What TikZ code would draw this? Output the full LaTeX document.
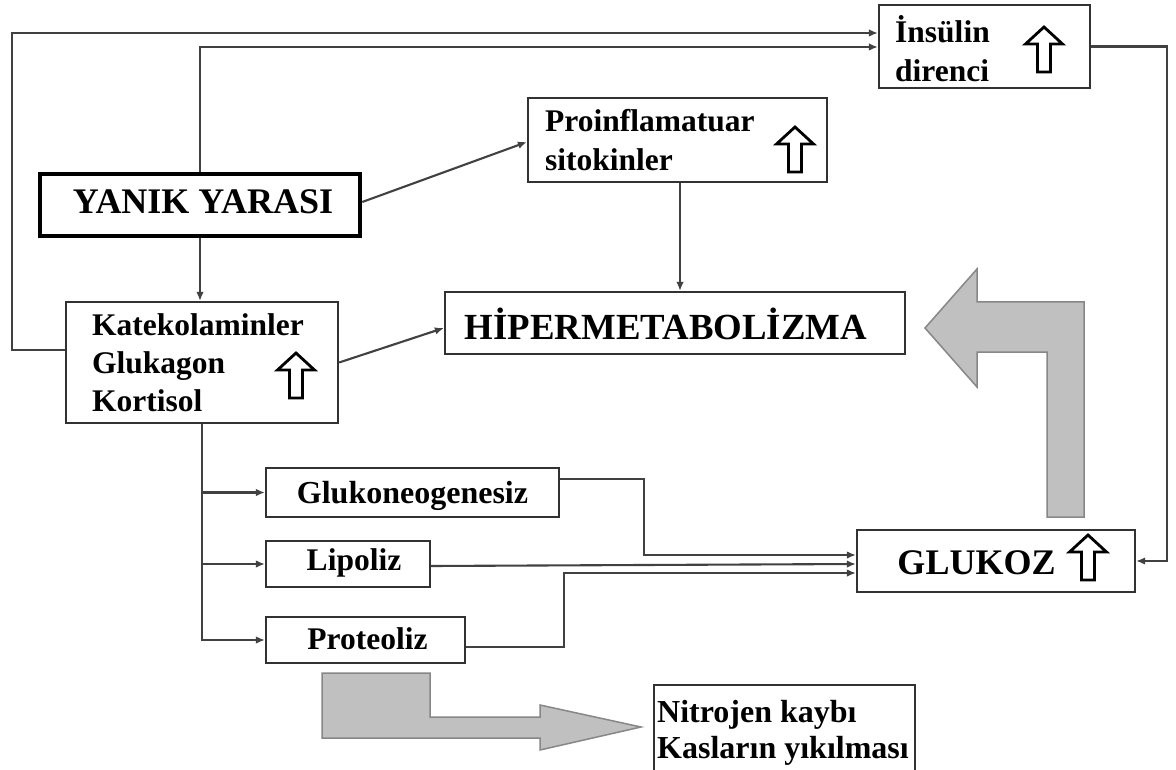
\documentclass[tikz,border=0pt]{standalone}
\usepackage{fontspec}
\setmainfont{Liberation Serif}
\usetikzlibrary{arrows.meta}
\definecolor{boxc}{RGB}{50,50,50}
\definecolor{linec}{RGB}{65,65,65}
\definecolor{grayfill}{RGB}{192,192,192}
\definecolor{grayedge}{RGB}{135,135,135}
\begin{document}
\begin{tikzpicture}[x=1pt,y=-1pt,
  box/.style={draw=boxc, line width=2.2pt, rectangle, inner sep=0pt},
  conn/.style={draw=linec, line width=2.1pt, -{Latex[length=9pt,width=7.5pt]}},
  txt/.style={font=\fontsize{31.5}{36}\selectfont\bfseries, inner sep=0pt, anchor=base west},
  ctxt/.style={inner sep=0pt, anchor=base},
  grayarr/.style={fill=grayfill, draw=grayedge, line width=1.5pt, line join=miter},
  uparr/.pic={\draw[line width=2.8pt, fill=white, line join=miter]
     (-6.5,0) -- (6.5,0) -- (6.5,-28) -- (18.5,-28) -- (0,-45) -- (-18.5,-28) -- (-6.5,-28) -- cycle;}
]
\useasboundingbox[fill=white] (0,0) rectangle (1176,770);

% boxes
\node[box, minimum width=211pt, minimum height=83pt] (ins) at (984.5,46.5) {};
\node[box, minimum width=299pt, minimum height=84pt] (pro) at (677.5,140) {};
\node[box, draw=black, line width=4.5pt, minimum width=320pt, minimum height=62pt] (yan) at (200,205) {};
\node[box, minimum width=272pt, minimum height=121pt] (kat) at (202,362.5) {};
\node[box, minimum width=460pt, minimum height=62pt] (hip) at (675,323) {};
\node[box, minimum width=278pt, minimum height=62pt] (glk) at (996,561) {};
\node[box, minimum width=293pt, minimum height=49pt] (gng) at (412.5,492.5) {};
\node[box, minimum width=164pt, minimum height=46pt] (lip) at (348,564) {};
\node[box, minimum width=199pt, minimum height=46pt] (prt) at (365.5,640) {};
\node[box, anchor=north west, minimum width=261pt, minimum height=130pt] (nit) at (653,684) {};

% texts
\node[txt] (t1) at (895,43) {İnsülin};
\node[txt] (t2) at (895,82) {direnci};
\node[txt] (t3) at (545,132) {Proinflamatuar};
\node[txt] (t4) at (545,171) {sitokinler};
\node[ctxt, font=\fontsize{36}{40}\selectfont\bfseries] (t5) at (203,214) {YANIK YARASI};
\node[txt] (t6) at (92,335) {Katekolaminler};
\node[txt] (t7) at (92,373) {Glukagon};
\node[txt] (t8) at (92,411) {Kortisol};
\node[ctxt, font=\fontsize{36.8}{40}\selectfont\bfseries] (t9) at (666,339) {HİPERMETABOLİZMA};
\node[ctxt, font=\fontsize{36}{40}\selectfont\bfseries] (t10) at (976.5,574) {GLUKOZ};
\node[ctxt, font=\fontsize{32}{36}\selectfont\bfseries] (t11) at (412.5,503) {Glukoneogenesiz};
\node[ctxt, font=\fontsize{31.5}{36}\selectfont\bfseries] (t12) at (354,570) {Lipoliz};
\node[ctxt, font=\fontsize{31.5}{36}\selectfont\bfseries] (t13) at (367.5,649) {Proteoliz};
\node[txt, font=\fontsize{32}{36}\selectfont\bfseries] (t14) at (657,722) {Nitrojen kaybı};
\node[txt, font=\fontsize{32}{36}\selectfont\bfseries] (t15) at (657,758) {Kasların yıkılması};

% up arrows
\pic at (1044,72) {uparr};
\pic at (795,172) {uparr};
\pic at (296,398) {uparr};
\pic at (1088,580) {uparr};

% gray block arrows
\draw[grayarr] (925,328) -- (977,269) -- (977,302) -- (1084,302) -- (1084,517) -- (1047,517) -- (1047,352) -- (977,352) -- (977,387) -- cycle;
\draw[grayarr] (322,673) -- (430,673) -- (430,717) -- (540,717) -- (540,705) -- (641,727) -- (540,750) -- (540,738) -- (322,738) -- cycle;

% connectors
\draw[conn] ([yshift=12.5pt]kat.west) -- ++(-53,0) |- ([yshift=13.5pt]ins.west);
\draw[conn] (yan.north) |- ([yshift=-0.5pt]ins.west);
\draw[conn] (ins.east) -| ([xshift=31pt]glk.east) -- (glk.east);
\draw[conn] ([yshift=3pt]yan.east) -- ([yshift=-2pt]pro.west);
\draw[conn] ([xshift=2.5pt]pro.south) -- ([xshift=2.5pt]pro.south |- hip.north);
\draw[conn] (kat.east) -- ([yshift=-5pt]hip.west);
\draw[conn] (yan.south) -- (yan.south |- kat.north);
\draw[conn] (kat.south) |- (prt.west);
\draw[conn] (kat.south |- gng.west) -- (gng.west);
\draw[conn] (kat.south |- lip.west) -- (lip.west);
\draw[conn] ([yshift=13.5pt]gng.east) -- ++(84,0) |- ([yshift=6pt]glk.west);
\draw[conn] ([yshift=-2pt]lip.east) -- ([yshift=-3pt]glk.west);
\draw[conn] ([yshift=-7pt]prt.east) -- ++(98,0) |- ([yshift=-12pt]glk.west);
\end{tikzpicture}
\end{document}
